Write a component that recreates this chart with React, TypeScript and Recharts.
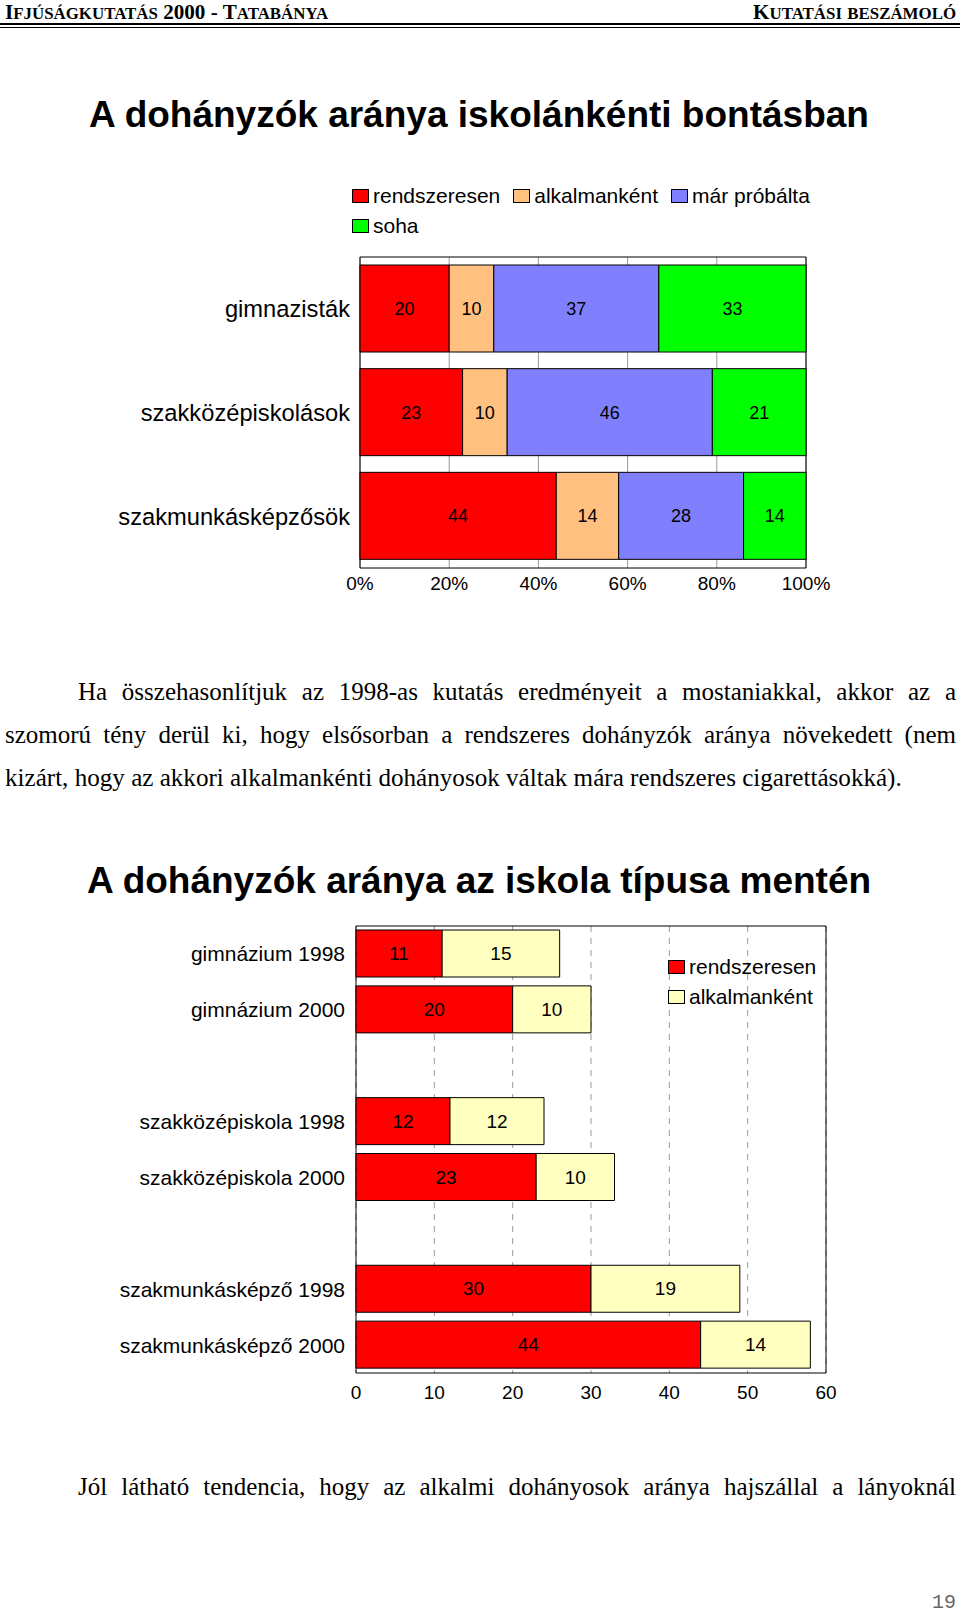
import React from "react";
import {
  BarChart,
  Bar,
  XAxis,
  YAxis,
  CartesianGrid,
  LabelList,
  Legend,
  ReferenceArea,
} from "recharts";

// chart 1: iskolánkénti bontás (%)
const schools = ["gimnazisták", "szakközépiskolások", "szakmunkásképzősök"];
const rendszeresen1 = [20, 23, 44];
const alkalmankent1 = [10, 10, 14];
const marProbalta1 = [37, 46, 28];
const soha1 = [33, 21, 14];
const pctTicks = [0, 20, 40, 60, 80, 100];

// chart 2: iskola típusa mentén (1998 vs 2000)
const rows2 = [
  "gimnázium 1998",
  "gimnázium 2000",
  "",
  "szakközépiskola 1998",
  "szakközépiskola 2000",
  " ",
  "szakmunkásképző 1998",
  "szakmunkásképző 2000",
];
const rendszeresen2 = [11, 20, null, 12, 23, null, 30, 44];
const alkalmankent2 = [15, 10, null, 12, 10, null, 19, 14];
const countTicks = [0, 10, 20, 30, 40, 50, 60];

const series1 = [
  { key: "r", name: "rendszeresen", color: "#ff0000" },
  { key: "a", name: "alkalmanként", color: "#ffc080" },
  { key: "m", name: "már próbálta", color: "#8080ff" },
  { key: "s", name: "soha", color: "#00ff00" },
];
const series2 = [
  { key: "r", name: "rendszeresen", color: "#ff0000" },
  { key: "a", name: "alkalmanként", color: "#ffffc0" },
];

const data1 = schools.map((name, i) => ({
  name,
  r: rendszeresen1[i],
  a: alkalmankent1[i],
  m: marProbalta1[i],
  s: soha1[i],
}));
const data2 = rows2.map((name, i) => ({
  name,
  r: rendszeresen2[i],
  a: alkalmankent2[i],
}));

const sans = "'Liberation Sans', Arial, sans-serif";
const serif = "'Liberation Serif', 'Times New Roman', serif";

function LegendBox({ items, width }: { items: typeof series1; width?: number }) {
  return (
    <div style={{ display: "flex", flexWrap: "wrap", width, fontFamily: sans, fontSize: 21 }}>
      {items.map((it) => (
        <div key={it.name} style={{ display: "flex", alignItems: "center", height: 30, marginRight: 13 }}>
          <span
            style={{
              display: "inline-block",
              width: 15,
              height: 12,
              background: it.color,
              border: "1px solid #000",
              marginRight: 4,
            }}
          />
          <span style={{ color: "#000" }}>{it.name}</span>
        </div>
      ))}
    </div>
  );
}

// word-style small caps: lowercase letters become smaller capitals
function SmallCaps({ text, size }: { text: string; size: number }) {
  return (
    <>
      {text.split("").map((ch, i) =>
        ch !== ch.toUpperCase() ? (
          <span key={i} style={{ fontSize: size * 0.8 }}>
            {ch.toUpperCase()}
          </span>
        ) : (
          <span key={i}>{ch}</span>
        )
      )}
    </>
  );
}

const abs = (left: number, top: number): React.CSSProperties => ({ position: "absolute", left, top });

const headerSize = 21.1;
const headerStyle: React.CSSProperties = {
  fontFamily: serif,
  fontWeight: 700,
  fontSize: headerSize,
  lineHeight: "20px",
  whiteSpace: "nowrap",
};

export default function App() {
  return (
    <div
      style={{
        position: "absolute",
        left: 0,
        top: 0,
        width: 960,
        height: 1613,
        background: "#fff",
        overflow: "hidden",
        color: "#000",
      }}
    >
      {/* header */}
      <div style={{ ...abs(5, 2), ...headerStyle }}>
        <SmallCaps text="Ifjúságkutatás 2000 - Tatabánya" size={headerSize} />
      </div>
      <div style={{ position: "absolute", right: 4, top: 2, ...headerStyle }}>
        <SmallCaps text="Kutatási beszámoló" size={headerSize} />
      </div>
      <div style={{ position: "absolute", left: 0, top: 23, width: 960, height: 2, background: "#000" }} />
      <div style={{ position: "absolute", left: 0, top: 27, width: 960, height: 1, background: "#000" }} />

      {/* title 1 */}
      <div style={{ ...abs(89, 93), fontFamily: sans, fontWeight: 700, fontSize: 37, lineHeight: "44px" }}>
        A dohányzók aránya iskolánkénti bontásban
      </div>

      <div style={{ ...abs(0, 170), fontFamily: sans }}>
        <BarChart
          width={960}
          height={440}
          data={data1}
          layout="vertical"
          margin={{ top: 87, right: 154, bottom: 12, left: 10 }}
        >
          <CartesianGrid horizontal={false} stroke="#999" />
          <XAxis
            type="number"
            domain={[0, 100]}
            ticks={pctTicks}
            tickFormatter={(v) => `${v}%`}
            axisLine={false}
            tickLine={false}
            tickSize={0}
            tickMargin={9}
            height={30}
            tick={{ fontSize: 19, fill: "#000" }}
          />
          <YAxis
            type="category"
            dataKey="name"
            width={350}
            interval={0}
            axisLine={false}
            tickLine={false}
            tickSize={0}
            tickMargin={10}
            tick={{ fontSize: 23.7, fill: "#000" }}
          />
          <Legend
            layout="vertical"
            align="center"
            verticalAlign="middle"
            wrapperStyle={{ left: 352, top: 11, width: 480 }}
            content={() => <LegendBox items={series1} width={480} />}
          />
          {series1.map((s) => (
            <Bar
              key={s.key}
              dataKey={s.key}
              name={s.name}
              stackId="a"
              fill={s.color}
              stroke="#000"
              strokeWidth={1}
              barSize={87}
              isAnimationActive={false}
            >
              <LabelList dataKey={s.key} position="center" fill="#000" fontSize={18} />
            </Bar>
          ))}
          <ReferenceArea x1={0} x2={100} fill="none" stroke="#000" strokeWidth={1} />
        </BarChart>
      </div>

      {/* paragraph */}
      <div
        style={{
          ...abs(78, 670),
          width: 878,
          fontFamily: serif,
          fontSize: 25,
          lineHeight: "43px",
          textAlign: "justify",
          textAlignLast: "justify",
          whiteSpace: "nowrap",
        }}
      >
        Ha összehasonlítjuk az 1998-as kutatás eredményeit a mostaniakkal, akkor az a
      </div>
      <div
        style={{
          ...abs(5, 713),
          width: 951,
          fontFamily: serif,
          fontSize: 25,
          lineHeight: "43px",
          textAlign: "justify",
          textAlignLast: "justify",
          whiteSpace: "nowrap",
        }}
      >
        szomorú tény derül ki, hogy elsősorban a rendszeres dohányzók aránya növekedett (nem
      </div>
      <div style={{ ...abs(5, 756), fontFamily: serif, fontSize: 25.1, lineHeight: "43px", whiteSpace: "nowrap" }}>
        kizárt, hogy az akkori alkalmankénti dohányosok váltak mára rendszeres cigarettásokká).
      </div>

      {/* title 2 */}
      <div style={{ ...abs(87, 859), fontFamily: sans, fontWeight: 700, fontSize: 37, lineHeight: "44px" }}>
        A dohányzók aránya az iskola típusa mentén
      </div>

      <div style={{ ...abs(0, 900), fontFamily: sans }}>
        <BarChart
          width={960}
          height={533}
          data={data2}
          layout="vertical"
          margin={{ top: 26, right: 134, bottom: 30, left: 10 }}
        >
          <CartesianGrid horizontal={false} stroke="#999" strokeDasharray="6 6" />
          <XAxis
            type="number"
            domain={[0, 60]}
            ticks={countTicks}
            axisLine={false}
            tickLine={false}
            tickSize={0}
            tickMargin={13}
            height={30}
            tick={{ fontSize: 19, fill: "#000" }}
          />
          <YAxis
            type="category"
            dataKey="name"
            width={346}
            interval={0}
            axisLine={false}
            tickLine={false}
            tickSize={0}
            tickMargin={11}
            tick={{ fontSize: 21, fill: "#000" }}
          />
          <Legend
            layout="vertical"
            align="center"
            verticalAlign="middle"
            wrapperStyle={{ left: 668, top: 52, width: 160 }}
            content={() => <LegendBox items={series2} width={160} />}
          />
          {series2.map((s) => (
            <Bar
              key={s.key}
              dataKey={s.key}
              name={s.name}
              stackId="b"
              fill={s.color}
              stroke="#000"
              strokeWidth={1}
              barSize={47}
              isAnimationActive={false}
            >
              <LabelList dataKey={s.key} position="center" fill="#000" fontSize={19} />
            </Bar>
          ))}
          <ReferenceArea x1={0} x2={60} fill="none" stroke="#000" strokeWidth={1} />
        </BarChart>
      </div>

      <div
        style={{
          ...abs(78, 1465),
          width: 878,
          fontFamily: serif,
          fontSize: 25,
          lineHeight: "43px",
          textAlign: "justify",
          textAlignLast: "justify",
          whiteSpace: "nowrap",
        }}
      >
        Jól látható tendencia, hogy az alkalmi dohányosok aránya hajszállal a lányoknál
      </div>

      <div
        style={{
          position: "absolute",
          right: 4,
          top: 1591,
          fontFamily: "'Liberation Mono', monospace",
          fontSize: 20,
          lineHeight: "24px",
          color: "#666",
        }}
      >
        19
      </div>
    </div>
  );
}
